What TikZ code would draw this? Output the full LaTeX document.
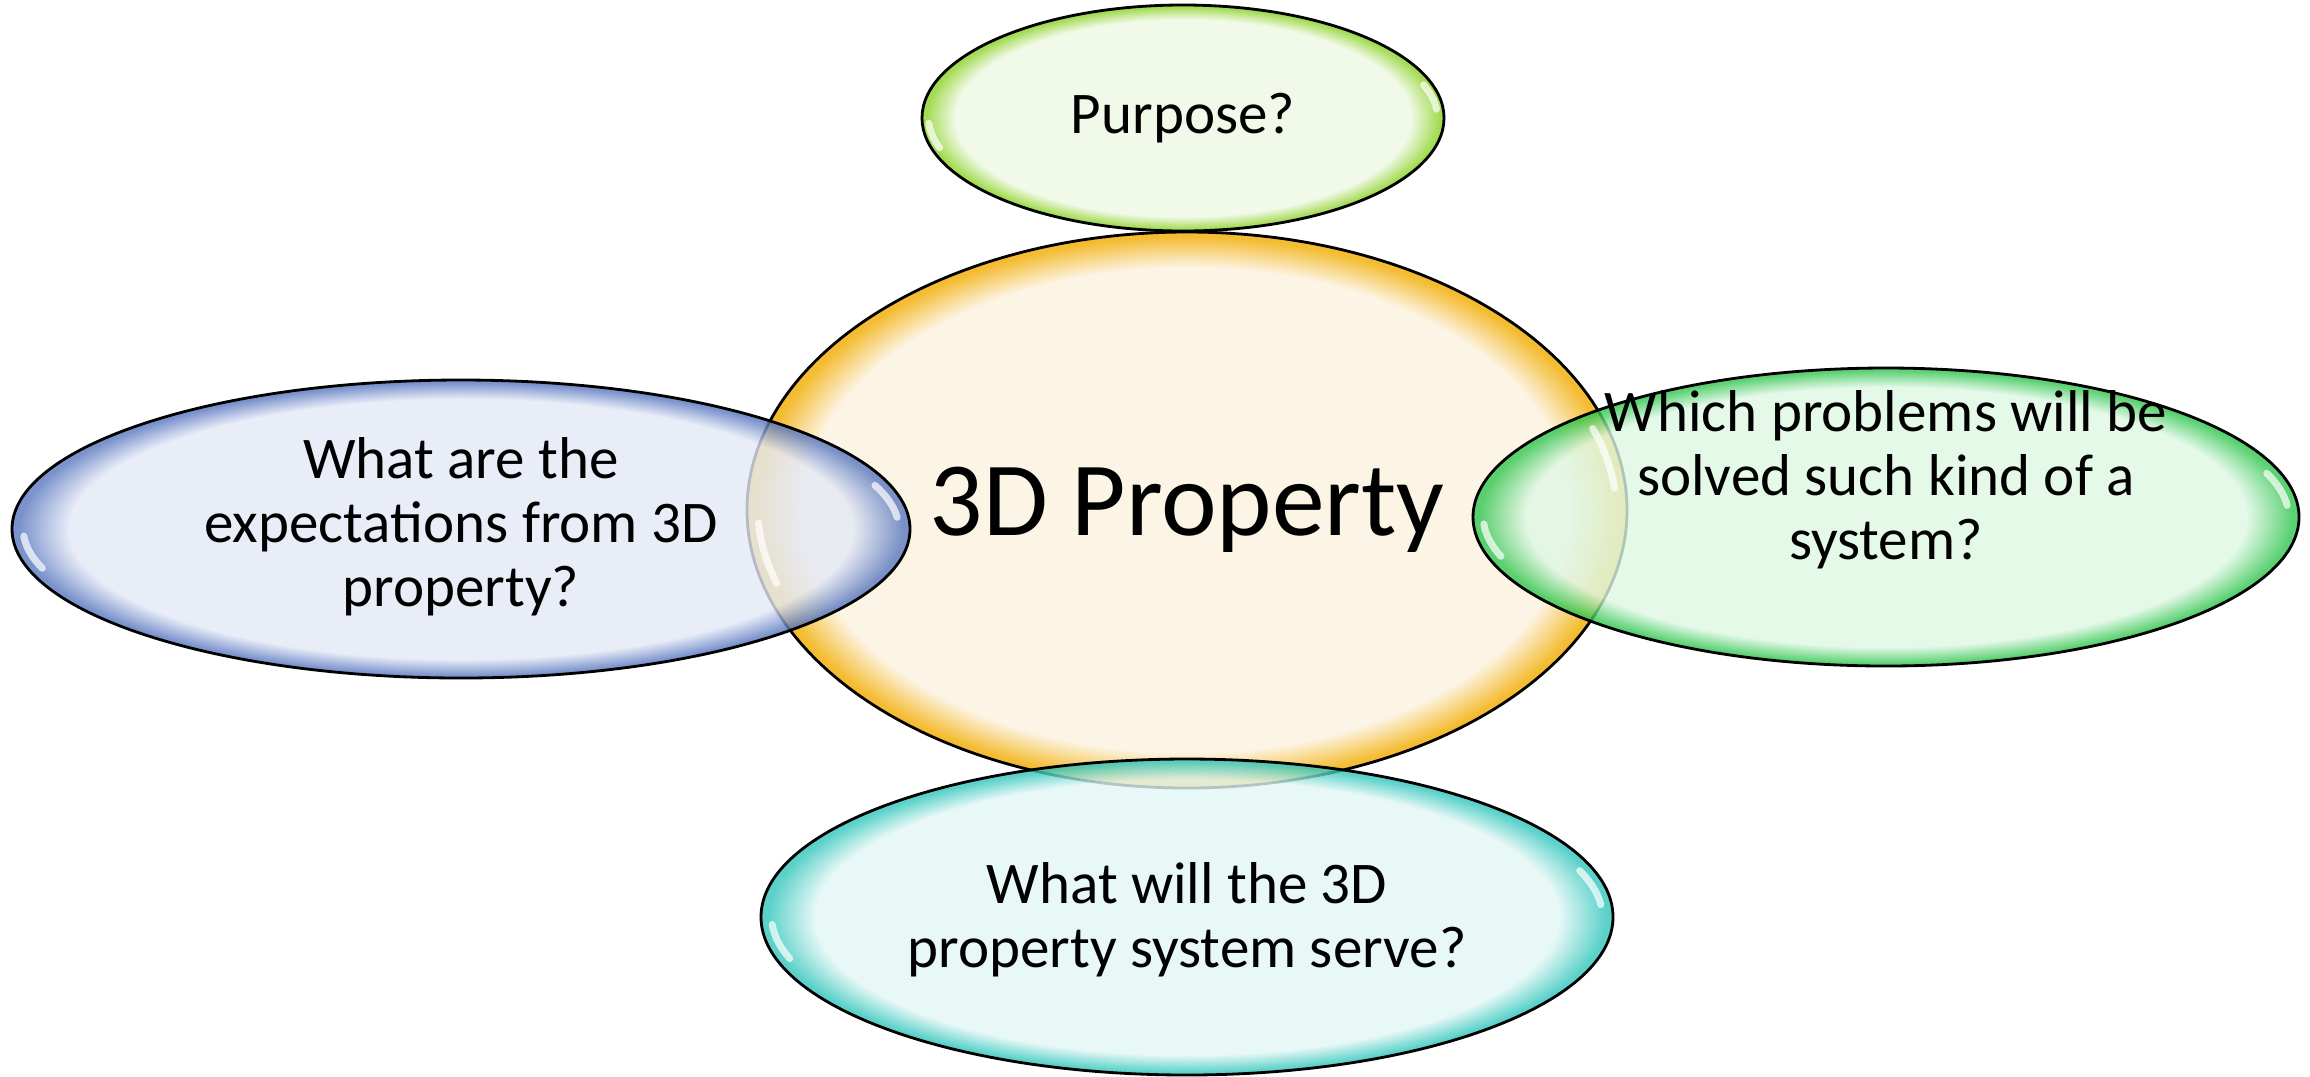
\documentclass[tikz,border=0pt]{standalone}
\usepackage{fontspec}
\setmainfont{Carlito}
\usetikzlibrary{shapes.geometric}

% bubble colours: light inside, stronger rim
\definecolor{coreIn}{RGB}{252,244,228}
\definecolor{coreOut}{RGB}{244,188,50}
\definecolor{purpIn}{RGB}{238,248,226}
\definecolor{purpOut}{RGB}{140,210,40}
\definecolor{expIn}{RGB}{228,233,246}
\definecolor{expOut}{RGB}{90,120,192}
\definecolor{probIn}{RGB}{222,247,228}
\definecolor{probOut}{RGB}{50,198,80}
\definecolor{servIn}{RGB}{226,246,245}
\definecolor{servOut}{RGB}{50,198,188}

% rim shading; its middle 50bp square is stretched over each ellipse's box
\pgfdeclareradialshading[bubin,bubout]{bubble}{\pgfpointorigin}{%
  color(0bp)=(bubin); color(21.8bp)=(bubin); color(24.6bp)=(bubout); color(25bp)=(bubout); color(50bp)=(bubout)}

\begin{document}
\begin{tikzpicture}[x=1cm, y=-1cm,
    % ellipse styles
    bubble/.style 2 args={ellipse, draw=black, line width=0.8pt, inner sep=0pt,
        /utils/exec={\colorlet{bubin}{#1}\colorlet{bubout}{#2}},
        shade, shading=bubble, fill opacity=0.8},
    % text styles
    qtext/.style={align=center, font=\fontsize{16.8}{18.2}\selectfont},
    bigtext/.style={font=\fontsize{30}{36}\selectfont},
    glint/.style={white, line width=2pt, line cap=round, opacity=0.7}
]
\useasboundingbox (0,0) rectangle (23.1,10.76);

% Centre and the four questions around it
\node[bubble={coreIn}{coreOut}, fill opacity=1, minimum width=8.80cm, minimum height=5.56cm] (core) at (11.87,5.10) {};
\node[bubble={purpIn}{purpOut}, minimum width=5.22cm, minimum height=2.26cm] (purpose) at (11.83,1.18) {};
\node[bubble={expIn}{expOut}, minimum width=8.98cm, minimum height=2.98cm] (expect) at (4.61,5.29) {};
\node[bubble={probIn}{probOut}, minimum width=8.26cm, minimum height=2.98cm] (problems) at (18.86,5.17) {};
\node[bubble={servIn}{servOut}, minimum width=8.52cm, minimum height=3.16cm] (serve) at (11.87,9.17) {};

% highlights near the ends
\foreach \n/\rx/\ry in {core/4.40/2.78, purpose/2.61/1.13, expect/4.49/1.49,
                         problems/4.13/1.49, serve/4.26/1.58} {
    \draw[glint] ([shift={(183:0.975*\rx cm and 0.9*\ry cm)}]\n.center)
        arc[start angle=183, end angle=197, x radius=0.975*\rx cm, y radius=0.9*\ry cm];
    \draw[glint] ([shift={(5:0.975*\rx cm and 0.9*\ry cm)}]\n.center)
        arc[start angle=5, end angle=19, x radius=0.975*\rx cm, y radius=0.9*\ry cm];
}

% Labels
\node[bigtext] (coretext) at (core.center) {3D Property};
\node[qtext] (purposetext) at (purpose.center) {Purpose?};
\node[qtext] (expecttext) at ([yshift=0.02cm]expect.center) {What are the\\expectations from 3D\\property?};
\node[qtext] (problemstext) at ([yshift=0.37cm]problems.center) {Which problems will be\\solved such kind of a\\system?};
\node[qtext] (servetext) at ([yshift=-0.03cm]serve.center) {What will the 3D\\property system serve?};

\end{tikzpicture}
\end{document}
